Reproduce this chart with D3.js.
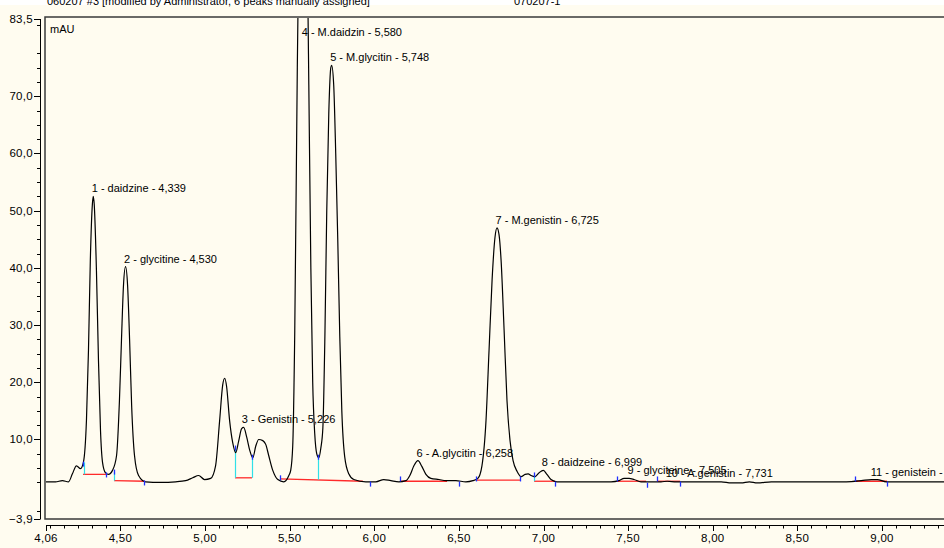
<!DOCTYPE html>
<html>
<head>
<meta charset="utf-8">
<script src="https://cdn.jsdelivr.net/npm/d3@7/dist/d3.min.js"></script>
<style>
  html, body { margin: 0; padding: 0; background: #fffcf0; }
  svg { display: block; }
  text { font-family: "Liberation Sans", Arial, sans-serif; fill: #000; }
</style>
</head>
<body>
<svg id="chart" width="944" height="548"></svg>
<script>
// ---- data ----
const traceTimes = [4.06,4.116,4.157,4.193,4.216,4.240,4.264,4.281,4.299,4.311,4.322,4.334,4.339,4.345,4.358,4.370,4.382,4.394,4.411,4.429,4.453,4.477,4.494,4.506,4.518,4.530,4.542,4.554,4.566,4.583,4.607,4.648,4.737,4.826,4.885,4.927,4.962,4.997,5.033,5.062,5.086,5.104,5.116,5.127,5.145,5.163,5.181,5.199,5.216,5.228,5.246,5.264,5.282,5.300,5.317,5.341,5.359,5.376,5.400,5.430,5.465,5.495,5.506,5.518,5.530,5.545,5.551,5.580,5.607,5.613,5.625,5.636,5.648,5.660,5.672,5.684,5.696,5.708,5.719,5.731,5.743,5.748,5.760,5.772,5.784,5.796,5.808,5.825,5.849,5.879,5.950,6.009,6.056,6.098,6.145,6.187,6.210,6.234,6.258,6.281,6.305,6.334,6.382,6.423,6.482,6.541,6.583,6.612,6.636,6.660,6.678,6.696,6.713,6.725,6.737,6.749,6.767,6.784,6.802,6.820,6.844,6.867,6.891,6.909,6.926,6.950,6.974,6.999,7.020,7.044,7.079,7.222,7.399,7.446,7.476,7.505,7.535,7.576,7.694,7.731,7.784,7.932,8.050,8.109,8.168,8.216,8.263,8.346,8.523,8.641,8.789,8.878,8.937,8.972,9.025,9.143,9.374];
const traceValues = [2.6,2.6,2.8,2.6,4.0,5.4,4.9,6.0,13.3,25.6,41.4,51.1,52.5,51.1,39.6,23.9,11.6,6.0,4.2,3.9,4.6,7.2,16.8,27.4,37.0,40.2,37.0,27.4,16.0,7.2,3.7,2.6,2.5,2.6,2.8,3.3,3.7,3.0,3.2,5.4,13.3,19.5,20.7,19.3,13.3,9.5,7.7,9.8,11.9,12.1,10.4,8.1,6.8,8.9,10.0,9.8,9.1,7.2,4.6,3.0,2.6,3.7,4.6,8.9,29,75,90,150,88,72,40,20,11,7.5,6.8,8.5,12,28,50,67,75,75.4,72,60,45,28,15,7,4,3.0,2.6,2.6,3.0,2.8,2.6,2.8,3.7,5.4,6.3,5.3,3.9,3.2,3.0,2.8,2.8,2.6,2.8,3.2,5.4,13.3,25.6,37.9,45.3,47.0,45.8,41.4,29.1,16.8,9.8,6.3,4.4,3.5,3.9,4.0,3.7,3.5,4.2,4.6,3.9,3.0,2.6,2.6,2.6,2.8,3.2,3.2,3.0,2.6,2.6,2.7,2.6,2.6,2.6,2.4,2.4,2.6,2.4,2.6,2.6,2.6,2.6,2.8,3.0,3.0,2.6,2.6,2.6];

const peakLabels = ["1 - daidzine - 4,339","2 - glycitine - 4,530","3 - Genistin - 5,226","4 - M.daidzin - 5,580","5 - M.glycitin - 5,748","6 - A.glycitin - 6,258","7 - M.genistin - 6,725","8 - daidzeine - 6,999","9 - glyciteine - 7,505","10 - A.genistin - 7,731","11 - genistein - 8,942"];
const peakTimes = [4.339,4.530,5.226,5.580,5.748,6.258,6.725,6.999,7.505,7.731,8.942];
const peakApex = [52.5,40.2,12.1,150,75.4,6.3,47.0,4.6,3.2,2.7,3.0];

// integration baselines: start time, start value, end time, end value
const baseStartT = [4.279,4.462,5.177,5.443,6.152,6.601,6.944,7.435,7.670,8.841];
const baseStartV = [3.9,2.8,3.3,3.1,2.7,2.9,2.7,2.7,2.7,2.7];
const baseEndT   = [4.415,4.645,5.277,5.933,6.430,6.861,7.068,7.606,7.807,9.030];
const baseEndV   = [3.9,2.7,3.3,2.7,2.7,2.9,2.7,2.7,2.7,2.7];

// peak drop lines: time, top value, bottom value
const dropT   = [4.282,4.462,5.177,5.277,5.668,6.944];
const dropTop = [6.0,4.3,8.3,6.9,6.9,3.8];
const dropBot = [3.9,2.8,3.3,3.3,3.0,2.7];

// peak delimiter marks: time, centre value
const markT = [4.279,4.415,4.462,4.639,5.177,5.277,5.443,5.668,5.975,6.152,6.501,6.601,6.861,6.944,7.068,7.435,7.612,7.670,7.807,8.841,9.030];
const markV = [5.7,3.8,4.3,2.4,8.5,6.9,3.3,6.9,2.2,3.1,2.2,3.1,3.1,3.8,2.2,3.1,2.0,3.1,2.2,3.1,2.2];

const yTickValues = [83.5,70,60,50,40,30,20,10,-3.9];
const xTickValues = [4.06,4.5,5.0,5.5,6.0,6.5,7.0,7.5,8.0,8.5,9.0];

const headerLeft = "060207 #3 [modified by Administrator, 6 peaks manually assigned]";
const headerRight = "070207-1";
const unitLabel = "mAU";

// ---- layout ----
const W = 944, H = 548;
const frameL = 45, frameT = 17, frameB = 519;
const x = d3.scaleLinear().domain([4.06, 9.0]).range([46, 882]);
const y = d3.scaleLinear().domain([-3.9, 83.5]).range([519, 19]);
const comma = v => d3.format(".1f")(v).replace(".", ",");
const comma2 = v => d3.format(".2f")(v).replace(".", ",");

const svg = d3.select("#chart");
svg.append("rect").attr("x",0).attr("y",0).attr("width",W).attr("height",H).attr("fill","#fffcf0");
svg.append("rect").attr("x",0).attr("y",0).attr("width",W).attr("height",5).attr("fill","#ffffff");

// header (clipped by top edge)
svg.append("text").attr("x",47).attr("y",5).attr("font-size",11).text(headerLeft);
svg.append("text").attr("x",514).attr("y",5).attr("font-size",11).text(headerRight);

// frame
svg.append("rect").attr("x",frameL).attr("y",frameT).attr("width",W - frameL + 10).attr("height",frameB - frameT)
  .attr("fill","none").attr("stroke","#3a3a3a").attr("stroke-width",1.5);

svg.append("text").attr("x",50).attr("y",33).attr("font-size",11).text(unitLabel);

// y axis (left side, ticks pointing left)
const yAx = svg.append("g");
yAx.append("line").attr("x1",40.5).attr("x2",40.5).attr("y1",y(83.5)).attr("y2",y(-3.9)).attr("stroke","#000");
const yMinor = d3.range(-2.5, 83.5, 2.5).filter(v => Math.abs(v % 10) > 0.01);
yAx.selectAll("line.ymin").data(yMinor).join("line").attr("class","ymin")
  .attr("x1",37).attr("x2",40.5).attr("y1",d => Math.round(y(d))+0.5).attr("y2",d => Math.round(y(d))+0.5).attr("stroke","#000");
yAx.selectAll("line.ymaj").data(yTickValues).join("line").attr("class","ymaj")
  .attr("x1",34).attr("x2",40.5).attr("y1",d => Math.round(y(d))+0.5).attr("y2",d => Math.round(y(d))+0.5).attr("stroke","#000");
yAx.selectAll("text").data(yTickValues).join("text")
  .attr("x",33).attr("y",d => y(d)+4).attr("text-anchor","end").attr("font-size",11.5)
  .attr("letter-spacing","0.3").text(d => comma(d));

// x axis (below frame, ticks pointing down)
const xAx = svg.append("g");
const axY = 525.5;
xAx.append("line").attr("x1",x(4.06)).attr("x2",W).attr("y1",axY).attr("y2",axY).attr("stroke","#000");
const xMinor = d3.range(49, 113).map(k => k/12).filter(v => v > 4.07 && v < 9.4 && Math.abs(v*2 - Math.round(v*2)) > 0.01);
xAx.selectAll("line.xmin").data(xMinor).join("line").attr("class","xmin")
  .attr("x1",d => Math.round(x(d))+0.5).attr("x2",d => Math.round(x(d))+0.5).attr("y1",axY).attr("y2",axY+3).attr("stroke","#000");
xAx.selectAll("line.xmaj").data(xTickValues).join("line").attr("class","xmaj")
  .attr("x1",d => Math.round(x(d))+0.5).attr("x2",d => Math.round(x(d))+0.5).attr("y1",axY).attr("y2",axY+5.5).attr("stroke","#000");
xAx.selectAll("text").data(xTickValues).join("text")
  .attr("x",d => x(d)).attr("y",542).attr("text-anchor","middle").attr("font-size",11.5)
  .attr("letter-spacing","0.3").text(d => comma2(d));

// clip for plot
svg.append("clipPath").attr("id","plotclip").append("rect")
  .attr("x",frameL+1).attr("y",frameT+1).attr("width",W).attr("height",frameB-frameT-2);
const plot = svg.append("g").attr("clip-path","url(#plotclip)");

// integration baselines
plot.selectAll("line.base").data(baseStartT).join("line").attr("class","base")
  .attr("x1",(d,i) => x(d)).attr("y1",(d,i) => y(baseStartV[i]))
  .attr("x2",(d,i) => x(baseEndT[i])).attr("y2",(d,i) => y(baseEndV[i]))
  .attr("stroke","#ff2a2a").attr("stroke-width",1.3);

// drop lines
plot.selectAll("line.drop").data(dropT).join("line").attr("class","drop")
  .attr("x1",d => Math.round(x(d))+0.5).attr("x2",d => Math.round(x(d))+0.5)
  .attr("y1",(d,i) => y(dropTop[i])).attr("y2",(d,i) => y(dropBot[i]))
  .attr("stroke","#30e0e8").attr("stroke-width",1.2);

// trace
const pts = traceTimes.map((t,i) => [t, traceValues[i]]);
plot.append("path").datum(pts)
  .attr("d", d3.line().x(d => x(d[0])).y(d => y(d[1])).curve(d3.curveMonotoneX))
  .attr("fill","none").attr("stroke","#000").attr("stroke-width",1.2);

// delimiter marks
plot.selectAll("line.mark").data(markT).join("line").attr("class","mark")
  .attr("x1",d => Math.round(x(d))+0.5).attr("x2",d => Math.round(x(d))+0.5)
  .attr("y1",(d,i) => y(markV[i]) - 2.5).attr("y2",(d,i) => y(markV[i]) + 2.5)
  .attr("stroke","#2030ff").attr("stroke-width",1.3);

// peak labels
svg.selectAll("text.peak").data(peakLabels).join("text").attr("class","peak")
  .attr("x",(d,i) => x(peakTimes[i]) - 1.5)
  .attr("y",(d,i) => Math.max(y(peakApex[i]) - 4, 36))
  .attr("font-size",11).text(d => d);
</script>
</body>
</html>
